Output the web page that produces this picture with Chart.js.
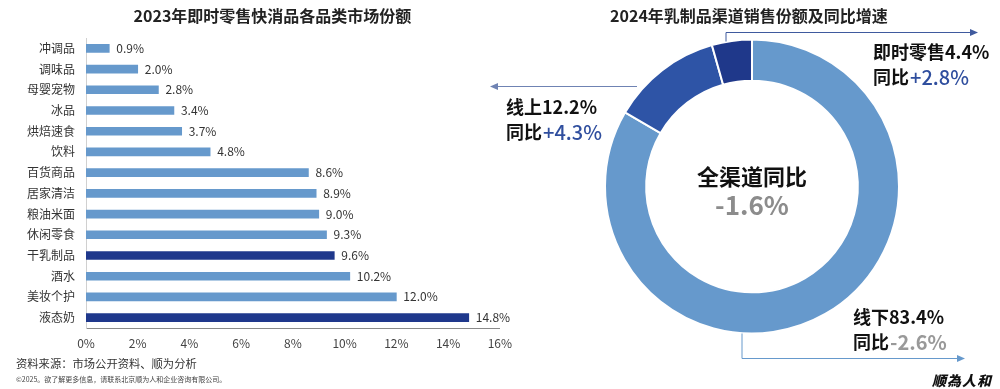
<!DOCTYPE html>
<html>
<head>
<meta charset="utf-8">
<script src="https://cdn.jsdelivr.net/npm/chart.js@4/dist/chart.umd.min.js"></script>
<style>
  body { margin:0; width:1000px; height:389px; background:#fff; position:relative; overflow:hidden;
         font-family:"Noto Sans CJK SC", "Noto Sans", sans-serif; }
  .title { position:absolute; top:3px; font-size:16px; font-weight:bold; color:#222; text-align:center; }
  #leftBox { position:absolute; left:0; top:0; width:520px; height:389px; }
  #rightBox { position:absolute; left:480px; top:0; width:520px; height:389px; }
  .src { position:absolute; left:16px; top:355px; font-size:11.3px; color:#333; }
  .copy { position:absolute; left:16px; top:374px; font-size:7px; color:#444; }
  .logo { position:absolute; left:932px; top:370px; font-size:14px; font-weight:900; color:#111;
          font-family:"Noto Sans CJK TC", sans-serif; font-style:italic; letter-spacing:1px; }
</style>
</head>
<body>
<div id="leftBox"><canvas id="barChart"></canvas></div>
<div id="rightBox"><canvas id="pieChart"></canvas></div>
<div class="title" style="left:0;width:545px;">2023年即时零售快消品各品类市场份额</div>
<div class="title" style="left:600px;width:298px;">2024年乳制品渠道销售份额及同比增速</div>
<div class="src">资料来源：市场公开资料、顺为分析</div>
<div class="copy">©2025。欲了解更多信息，请联系北京顺为人和企业咨询有限公司。</div>
<div class="logo">顺為人和</div>
<script>
// left chart data
var categories = ['冲调品','调味品','母婴宠物','冰品','烘焙速食','饮料','百货商品','居家清洁','粮油米面','休闲零食','干乳制品','酒水','美妆个护','液态奶'];
var shares = [0.9, 2.0, 2.8, 3.4, 3.7, 4.8, 8.6, 8.9, 9.0, 9.3, 9.6, 10.2, 12.0, 14.8];
var dairyCats = ['干乳制品','液态奶'];
var xTicks = [0, 2, 4, 6, 8, 10, 12, 14, 16];

// right chart data
var channels = ['线下','线上','即时零售'];
var channelShares = [83.4, 12.2, 4.4];
var channelGrowth = [-2.6, 4.3, 2.8];
var totalGrowth = -1.6;

var LIGHT = '#6699cc';
var DARK = '#1f388c';
var CJK = '"Noto Sans CJK SC", sans-serif';

var barLabels = {
    id: 'barLabels',
    afterDatasetsDraw: function (chart) {
        var ctx = chart.ctx;
        var meta = chart.getDatasetMeta(0);
        ctx.save();
        ctx.font = '12px ' + CJK;
        ctx.fillStyle = '#333';
        ctx.textBaseline = 'middle';
        meta.data.forEach(function (bar, i) {
            ctx.fillText(shares[i].toFixed(1) + '%', bar.x + 7, bar.y);
        });
        ctx.restore();
    }
};

new Chart(document.getElementById('barChart'), {
    type: 'bar',
    data: {
        labels: categories,
        datasets: [{
            data: shares,
            backgroundColor: categories.map(function (c) {
                return dairyCats.indexOf(c) >= 0 ? DARK : LIGHT;
            }),
            barThickness: 8
        }]
    },
    options: {
        indexAxis: 'y',
        responsive: true,
        maintainAspectRatio: false,
        animation: false,
        layout: { padding: { top: 38, right: 17, bottom: 31, left: 0 } },
        plugins: { legend: { display: false }, tooltip: { enabled: false } },
        scales: {
            x: {
                min: xTicks[0], max: xTicks[xTicks.length - 1],
                afterBuildTicks: function (scale) {
                    scale.ticks = xTicks.map(function (v) { return { value: v }; });
                },
                afterFit: function (scale) { scale.height = 30; },
                grid: { display: false, drawTicks: false },
                border: { display: true, color: '#8a8a8a', width: 1 },
                ticks: {
                    padding: 8,
                    color: '#444',
                    font: { size: 12, family: CJK },
                    callback: function (v) { return v + '%'; }
                }
            },
            y: {
                afterFit: function (scale) { scale.width = 86; },
                grid: { display: false, drawTicks: false },
                border: { display: true, color: '#d0d0d0', width: 1 },
                ticks: { padding: 11, color: '#333', font: { size: 12, family: CJK } }
            }
        }
    },
    plugins: [barLabels]
});

function arrowHead(ctx, x, y, dir, color) {
    ctx.save();
    ctx.fillStyle = color;
    ctx.beginPath();
    ctx.moveTo(x, y);
    ctx.lineTo(x - dir * 8, y - 3.5);
    ctx.lineTo(x - dir * 8, y + 3.5);
    ctx.closePath();
    ctx.fill();
    ctx.restore();
}

function fmtGrowth(v) {
    return (v > 0 ? '+' : '') + v.toFixed(1) + '%';
}

function twoLineLabel(ctx, x, y, idx, growthColor) {
    ctx.font = 'bold 18px ' + CJK;
    ctx.fillStyle = '#111';
    ctx.fillText(channels[idx] + channelShares[idx].toFixed(1) + '%', x, y);
    var head = '同比';
    ctx.fillText(head, x, y + 25);
    var w = ctx.measureText(head).width;
    ctx.fillStyle = growthColor;
    ctx.font = (channelGrowth[idx] > 0 ? '500 ' : 'bold ') + '20px ' + CJK;
    ctx.fillText(fmtGrowth(channelGrowth[idx]), x + w + 1, y + 25);
}

var donutNotes = {
    id: 'donutNotes',
    afterDraw: function (chart) {
        var ctx = chart.ctx;
        var arc = chart.getDatasetMeta(0).data[0];
        var cx = arc.x, cy = arc.y, R = arc.outerRadius;
        ctx.save();
        ctx.lineWidth = 1;

        // centre
        ctx.textAlign = 'center';
        ctx.textBaseline = 'middle';
        ctx.fillStyle = '#111';
        ctx.font = 'bold 22px ' + CJK;
        ctx.fillText('全渠道同比', cx, cy - 10);
        ctx.fillStyle = '#8c8c8c';
        ctx.font = 'bold 26px ' + CJK;
        ctx.fillText(totalGrowth.toFixed(1) + '%', cx, cy + 19);

        // 即时零售 arrow
        var c1 = '#3f5a9e';
        ctx.strokeStyle = c1;
        ctx.beginPath();
        ctx.moveTo(cx - 26, cy - R + 2);
        ctx.lineTo(cx - 26, cy - R - 7);
        ctx.lineTo(cx + 220, cy - R - 7);
        ctx.stroke();
        arrowHead(ctx, cx + 226, cy - R - 7, 1, c1);

        // 线上 arrow
        var c2 = '#6f83b3';
        ctx.strokeStyle = c2;
        ctx.beginPath();
        ctx.moveTo(cx - 115, cy - 100);
        ctx.lineTo(cx - 256, cy - 100);
        ctx.stroke();
        arrowHead(ctx, cx - 262, cy - 100, -1, c2);

        // 线下 arrow
        var c3 = LIGHT;
        ctx.strokeStyle = c3;
        ctx.beginPath();
        ctx.moveTo(cx - 10, cy + R);
        ctx.lineTo(cx - 10, cy + 172);
        ctx.lineTo(cx + 207, cy + 172);
        ctx.stroke();
        arrowHead(ctx, cx + 213, cy + 172, 1, c3);

        ctx.textAlign = 'left';
        ctx.textBaseline = 'middle';
        twoLineLabel(ctx, cx + 121, cy - 134, 2, '#2f4e9e');
        twoLineLabel(ctx, cx - 246, cy - 79, 1, '#2f4e9e');
        twoLineLabel(ctx, cx + 101, cy + 131, 0, '#999');
        ctx.restore();
    }
};

new Chart(document.getElementById('pieChart'), {
    type: 'doughnut',
    data: {
        labels: channels,
        datasets: [{
            data: channelShares,
            backgroundColor: [LIGHT, '#2e54a6', '#1f388a'],
            borderColor: '#fff',
            borderWidth: 2
        }]
    },
    options: {
        responsive: true,
        maintainAspectRatio: false,
        animation: false,
        cutout: '72%',
        layout: { padding: { top: 38, bottom: 54, left: 124, right: 100 } },
        plugins: { legend: { display: false }, tooltip: { enabled: false } }
    },
    plugins: [donutNotes]
});
</script>
</body>
</html>
